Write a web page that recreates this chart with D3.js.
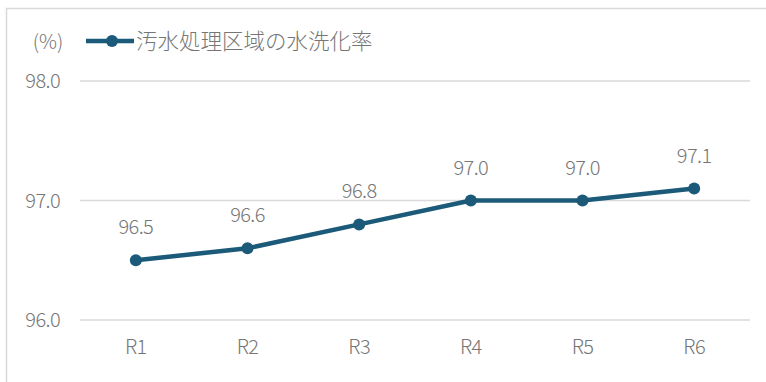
<!DOCTYPE html>
<html><head><meta charset="utf-8">
<script src="https://cdn.jsdelivr.net/npm/d3@7"></script>
<style>body{margin:0;background:#fff}svg{display:block}text{font-family:"Noto Sans CJK JP","Noto Sans",sans-serif;font-weight:300;fill:#767676}</style>
</head><body><svg id="c" width="766" height="382"></svg>
<script>
const categories = ["R1","R2","R3","R4","R5","R6"];
const values = [96.5,96.6,96.8,97.0,97.0,97.1];
const yTicks = [96.0,97.0,98.0];
const seriesName = "汚水処理区域の水洗化率";
const unitLabel = "(%)";

const svg = d3.select("#c");
const color = "#1b5a78";
// frame
svg.append("path").attr("d","M6.5,382 L6.5,8.5 L766,8.5").attr("fill","none").attr("stroke","#d9d9d9").attr("stroke-width",1.5);

const x = d3.scaleBand().domain(categories).range([80,750]);
const y = d3.scaleLinear().domain([96,98]).range([320,81]);
const fs = 20;

svg.append("g").selectAll("line").data(yTicks).join("line")
  .attr("x1",80).attr("x2",750).attr("y1",d=>y(d)).attr("y2",d=>y(d))
  .attr("stroke","#d9d9d9").attr("stroke-width",1.5);
svg.append("g").selectAll("text").data(yTicks).join("text")
  .attr("x",60).attr("y",d=>y(d)).attr("dy","0.35em").attr("text-anchor","end")
  .attr("font-size",fs).attr("letter-spacing",-0.6).text(d=>d.toFixed(1));
svg.append("g").selectAll("text").data(categories).join("text")
  .attr("x",d=>x(d)+x.bandwidth()/2).attr("y",347).attr("dy","0.35em").attr("text-anchor","middle")
  .attr("font-size",fs).attr("letter-spacing",-0.6).text(d=>d);

const line = d3.line().x((d,i)=>x(categories[i])+x.bandwidth()/2).y(d=>y(d));
svg.append("path").datum(values).attr("d",line).attr("fill","none").attr("stroke",color).attr("stroke-width",4.5).attr("stroke-linejoin","round");
svg.append("g").selectAll("circle").data(values).join("circle")
  .attr("cx",(d,i)=>x(categories[i])+x.bandwidth()/2).attr("cy",d=>y(d)).attr("r",6).attr("fill",color);
svg.append("g").selectAll("text").data(values).join("text")
  .attr("x",(d,i)=>x(categories[i])+x.bandwidth()/2).attr("y",d=>y(d)-33).attr("dy","0.35em").attr("text-anchor","middle")
  .attr("font-size",fs).attr("letter-spacing",-0.6).text(d=>d.toFixed(1));

// unit + legend
svg.append("text").attr("x",48).attr("y",42).attr("dy","0.35em").attr("text-anchor","middle").attr("font-size",fs).text(unitLabel);
svg.append("line").attr("x1",86).attr("x2",134).attr("y1",41).attr("y2",41).attr("stroke",color).attr("stroke-width",4.5);
svg.append("circle").attr("cx",112).attr("cy",41).attr("r",6).attr("fill",color);
svg.append("text").attr("x",136).attr("y",41).attr("dy","0.35em").attr("font-size",21.5).text(seriesName);
</script></body></html>
